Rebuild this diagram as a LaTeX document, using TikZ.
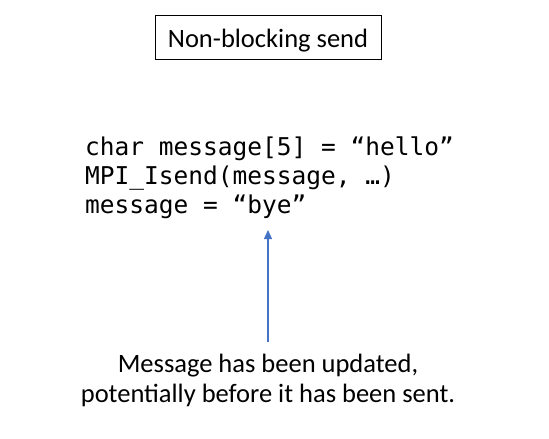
\documentclass[tikz,border=0pt]{standalone}
\usepackage{fontspec}
\setmainfont{Carlito}
\newfontfamily\codefont{DejaVu Sans Mono}
\usetikzlibrary{arrows.meta}
\definecolor{arrowblue}{HTML}{4472C4}

\begin{document}
\begin{tikzpicture}[x=1pt, y=1pt,
   titlebox/.style={draw=black, line width=1pt, minimum width=226pt, minimum height=44pt, inner sep=0pt, text height=21pt, text depth=1pt, font=\fontsize{26.5}{30}\selectfont},
   codeline/.style={anchor=base west, inner sep=0pt, font=\codefont\fontsize{24.5}{29}\selectfont},
   noteline/.style={anchor=base, inner sep=0pt, font=\fontsize{26.5}{30}\selectfont},
   pointer/.style={draw=arrowblue, line width=1.4pt, -{Triangle[length=9pt, width=8pt]}}]
\useasboundingbox (0,0) rectangle (549,-439);
\node[titlebox] (title) at (268,-37) {Non-blocking send};
\node[codeline] (code1) at (85,-155.5) {char message[5] = “hello”};
\node[codeline] (code2) at (85,-184.5) {MPI\_Isend(message, …)};
\node[codeline] (code3) at (85,-213) {message = “bye”};
\node[noteline] (note1) at (268,-372) {Message has been updated,};
\node[noteline] (note2) at (268,-402) {potentially before it has been sent.};
\coordinate (tip) at (268,-230);
\draw[pointer] ([yshift=11pt]note1.north) -- (tip);
\end{tikzpicture}
\end{document}
